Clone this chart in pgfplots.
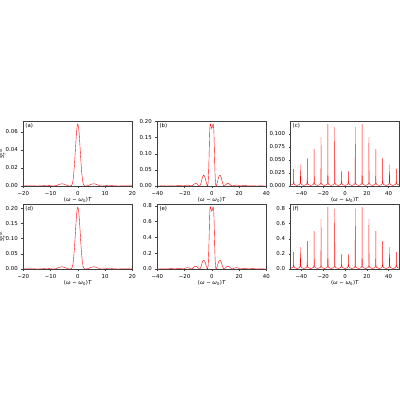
\documentclass[border=0pt]{standalone}
\usepackage{amsmath}
\usepackage{fontspec}
\setmainfont{DejaVu Sans}
\usepackage{pgfplots}
\pgfplotsset{compat=1.18}

\newcommand{\fs}{\fontsize{5.4}{6.5}\selectfont}
\newcommand{\xlab}{(\textit{ω} − \textit{ω}\textsubscript{0})\textit{T}}
\newcommand{\ylab}{$\textit{S}_{\textit{T}}^{\textrm{out}}$}

\pgfplotsset{
  panel/.style={
    scale only axis, width=109pt, height=65pt, anchor=south west,
    axis line style={black!75, line width=0.4pt},
    tick style={black!75, line width=0.4pt},
    major tick length=2pt, tick align=outside,
    xtick pos=left, ytick pos=left,
    ticklabel style={font=\fs},
    /pgf/number format/assume math mode=true,
    scaled y ticks=false, ymin=0,
    xlabel=\xlab,
    xlabel style={font=\fs, at={(axis description cs:0.5,0)}, anchor=north, yshift=-7.5pt},
    ylabel style={font=\fs, at={(axis description cs:-0.19,0.5)}, anchor=center},
    cycle list={{red, no markers, line width=0.7pt}},
  },
  xa/.style={xmin=-20, xmax=20, xtick={-20,-10,0,10,20}, xticklabels={−20,−10,0,10,20}},
  xb/.style={xmin=-40, xmax=40, xtick={-40,-20,0,20,40}, xticklabels={−40,−20,0,20,40}},
  xc/.style={xmin=-50, xmax=50, xtick={-40,-20,0,20,40}, xticklabels={−40,−20,0,20,40}},
  yp/.style={yticklabel style={/pgf/number format/fixed, /pgf/number format/fixed zerofill, /pgf/number format/precision=#1}},
}
\newcommand{\plab}[1]{\node[anchor=north west, font=\fs, inner sep=0pt] at ([xshift=2pt,yshift=-2.5pt]rel axis cs:0,1) {#1};}

\begin{document}
\begin{tikzpicture}
\path[use as bounding box] (0pt,0pt) rectangle (400pt,400pt);

% (a)
\begin{axis}[panel, xa, yp=2, at={(23.3pt,214pt)}, ymax=0.0719, ytick={0,0.02,0.04,0.06}, ylabel=\ylab]
\addplot coordinates {(-20,0.0001)(-19.5,0.0001)(-18,0.0003)(-16.5,0.0002)(-15,0)(-14,0.0001)(-13,0.0003)(-12,0.0005)(-11,0.0005)(-10,0.0003)(-9,0)(-8.5,0.0001)(-8,0.0004)(-7.5,0.0010)(-7,0.0016)(-6.5,0.0021)(-6,0.0024)(-5.5,0.0023)(-5,0.0020)(-4.5,0.0014)(-4,0.0007)(-3.5,0.0002)(-3,0)(-2.5,0.0001)(-2.25,0.0007)(-2,0.0024)(-1.75,0.0062)(-1.5,0.0130)(-1.25,0.0226)(-1,0.0343)(-0.75,0.0466)(-0.5,0.0582)(-0.25,0.0658)(0,0.0685)(0.25,0.0658)(0.5,0.0582)(0.75,0.0466)(1,0.0343)(1.25,0.0226)(1.5,0.0130)(1.75,0.0062)(2,0.0024)(2.25,0.0007)(2.5,0.0001)(3,0)(3.5,0.0002)(4,0.0007)(4.5,0.0014)(5,0.0020)(5.5,0.0023)(6,0.0024)(6.5,0.0021)(7,0.0016)(7.5,0.0010)(8,0.0004)(8.5,0.0001)(9,0)(10,0.0003)(11,0.0005)(12,0.0005)(13,0.0003)(14,0.0001)(15,0)(16.5,0.0002)(18,0.0003)(19.5,0.0001)(20,0.0001)};
\plab{(a)}
\end{axis}

% (b)
\begin{axis}[panel, xb, yp=2, at={(157.3pt,214pt)}, ymax=0.2016, ytick={0,0.05,0.10,0.15,0.20}]
\addplot coordinates {(-40,0.0002)(-39,0)(-36,0.0005)(-33,0)(-31.5,0.0005)(-30,0.0008)(-28.5,0.0006)(-27,0)(-25.5,0.001)(-24,0.0015)(-22.5,0.001)(-21,0)(-19.5,0.002)(-18,0.003)(-16.5,0.002)(-15,0)(-14,0.002)(-13,0.006)(-12,0.008)(-11,0.007)(-10,0.003)(-9,0)(-8.5,0.002)(-8,0.008)(-7.5,0.016)(-7,0.025)(-6.5,0.031)(-6,0.033)(-5.5,0.032)(-5,0.027)(-4.5,0.019)(-4,0.010)(-3.5,0.003)(-3.1,0)(-2.8,0.006)(-2.5,0.025)(-2.2,0.060)(-1.9,0.110)(-1.6,0.160)(-1.35,0.185)(-1.1,0.192)(-0.8,0.190)(-0.4,0.183)(0,0.178)(0.4,0.183)(0.8,0.190)(1.1,0.192)(1.35,0.185)(1.6,0.160)(1.9,0.110)(2.2,0.060)(2.5,0.025)(2.8,0.006)(3.1,0)(3.5,0.003)(4,0.010)(4.5,0.019)(5,0.027)(5.5,0.032)(6,0.033)(6.5,0.031)(7,0.025)(7.5,0.016)(8,0.008)(8.5,0.002)(9,0)(10,0.003)(11,0.007)(12,0.008)(13,0.006)(14,0.002)(15,0)(16.5,0.002)(18,0.003)(19.5,0.002)(21,0)(22.5,0.001)(24,0.0015)(25.5,0.001)(27,0)(28.5,0.0006)(30,0.0008)(31.5,0.0005)(33,0)(36,0.0005)(39,0)(40,0.0002)};
\plab{(b)}
\end{axis}

% (c)
\begin{axis}[panel, xc, yp=3, at={(290.5pt,214pt)}, ymax=0.125, ytick={0,0.025,0.05,0.075,0.1}]
\addplot coordinates {(-50,0.002)
(-47.87,0.003)(-47.35,0.006)(-47.20,0.010)(-47.12,0.033)(-47.04,0.010)(-46.89,0.006)(-46.37,0.003)(-43.98,0.001)
(-41.59,0.003)(-41.07,0.006)(-40.92,0.012)(-40.84,0.041)(-40.76,0.012)(-40.61,0.006)(-40.09,0.003)(-37.70,0.001)
(-35.31,0.003)(-34.79,0.006)(-34.64,0.016)(-34.56,0.053)(-34.48,0.016)(-34.33,0.006)(-33.81,0.003)(-31.42,0.001)
(-29.02,0.003)(-28.50,0.006)(-28.35,0.021)(-28.27,0.071)(-28.19,0.021)(-28.04,0.006)(-27.52,0.003)(-25.13,0.001)
(-22.74,0.003)(-22.22,0.006)(-22.07,0.028)(-21.99,0.094)(-21.91,0.028)(-21.76,0.006)(-21.24,0.003)(-18.85,0.001)
(-16.46,0.003)(-15.94,0.006)(-15.79,0.036)(-15.71,0.119)(-15.63,0.036)(-15.48,0.006)(-14.96,0.003)(-12.57,0.001)
(-10.17,0.003)(-9.65,0.006)(-9.50,0.034)(-9.42,0.113)(-9.34,0.034)(-9.19,0.006)(-8.67,0.003)(-6.28,0.001)
(-3.89,0.003)(-3.37,0.006)(-3.22,0.009)(-3.14,0.028)(-3.06,0.009)(-2.91,0.006)(-2.39,0.003)(0,0.001)
(2.39,0.003)(2.91,0.006)(3.06,0.009)(3.14,0.028)(3.22,0.009)(3.37,0.006)(3.89,0.003)(6.28,0.001)
(8.67,0.003)(9.19,0.006)(9.34,0.034)(9.42,0.113)(9.50,0.034)(9.65,0.006)(10.17,0.003)(12.57,0.001)
(14.96,0.003)(15.48,0.006)(15.63,0.036)(15.71,0.119)(15.79,0.036)(15.94,0.006)(16.46,0.003)(18.85,0.001)
(21.24,0.003)(21.76,0.006)(21.91,0.028)(21.99,0.094)(22.07,0.028)(22.22,0.006)(22.74,0.003)(25.13,0.001)
(27.52,0.003)(28.04,0.006)(28.19,0.021)(28.27,0.071)(28.35,0.021)(28.50,0.006)(29.02,0.003)(31.42,0.001)
(33.81,0.003)(34.33,0.006)(34.48,0.016)(34.56,0.053)(34.64,0.016)(34.79,0.006)(35.31,0.003)(37.70,0.001)
(40.09,0.003)(40.61,0.006)(40.76,0.012)(40.84,0.041)(40.92,0.012)(41.07,0.006)(41.59,0.003)(43.98,0.001)
(46.37,0.003)(46.89,0.006)(47.04,0.010)(47.12,0.033)(47.20,0.010)(47.35,0.006)(47.87,0.003)(50,0.002)};
\plab{(c)}
\end{axis}

% (d)
\begin{axis}[panel, xa, yp=2, at={(23.3pt,131pt)}, ymax=0.214, ytick={0,0.05,0.10,0.15,0.20}, ylabel=\ylab]
\addplot coordinates {(-20,0.0002)(-19.5,0.0004)(-18,0.0008)(-16.5,0.0006)(-15,0)(-14,0.0002)(-13,0.0008)(-12,0.0016)(-11,0.0016)(-10,0.0008)(-9,0)(-8.5,0.0002)(-8,0.0012)(-7.5,0.0029)(-7,0.0047)(-6.5,0.0063)(-6,0.0071)(-5.5,0.0069)(-5,0.0059)(-4.5,0.0041)(-4,0.0020)(-3.5,0.0006)(-3,0)(-2.5,0.0002)(-2.25,0.0020)(-2,0.0071)(-1.75,0.018)(-1.5,0.039)(-1.25,0.067)(-1,0.102)(-0.75,0.139)(-0.5,0.173)(-0.25,0.196)(0,0.204)(0.25,0.196)(0.5,0.173)(0.75,0.139)(1,0.102)(1.25,0.067)(1.5,0.039)(1.75,0.018)(2,0.0071)(2.25,0.0020)(2.5,0.0002)(3,0)(3.5,0.0006)(4,0.0020)(4.5,0.0041)(5,0.0059)(5.5,0.0069)(6,0.0071)(6.5,0.0063)(7,0.0047)(7.5,0.0029)(8,0.0012)(8.5,0.0002)(9,0)(10,0.0008)(11,0.0016)(12,0.0016)(13,0.0008)(14,0.0002)(15,0)(16.5,0.0006)(18,0.0008)(19.5,0.0004)(20,0.0002)};
\plab{(d)}
\end{axis}

% (e)
\begin{axis}[panel, xb, yp=1, at={(157.3pt,131pt)}, ymax=0.824, ytick={0,0.2,0.4,0.6,0.8}]
\addplot coordinates {(-40,0.001)(-39,0)(-37.5,0.002)(-36,0.003)(-34.5,0.002)(-33,0)(-31.5,0.0035)(-30,0.005)(-28.5,0.0035)(-27,0)(-25.5,0.006)(-24,0.009)(-22.5,0.006)(-21,0)(-19.5,0.011)(-18,0.017)(-16.5,0.011)(-15,0)(-14,0.009)(-13,0.026)(-12,0.035)(-11,0.030)(-10,0.013)(-9,0)(-8.5,0.007)(-8,0.027)(-7.5,0.053)(-7,0.083)(-6.5,0.103)(-6,0.110)(-5.5,0.107)(-5,0.090)(-4.5,0.063)(-4,0.034)(-3.5,0.010)(-3.1,0)(-2.8,0.025)(-2.5,0.10)(-2.2,0.245)(-1.9,0.45)(-1.6,0.655)(-1.35,0.76)(-1.1,0.785)(-0.8,0.78)(-0.4,0.75)(0,0.735)(0.4,0.75)(0.8,0.78)(1.1,0.785)(1.35,0.76)(1.6,0.655)(1.9,0.45)(2.2,0.245)(2.5,0.10)(2.8,0.025)(3.1,0)(3.5,0.010)(4,0.034)(4.5,0.063)(5,0.090)(5.5,0.107)(6,0.110)(6.5,0.103)(7,0.083)(7.5,0.053)(8,0.027)(8.5,0.007)(9,0)(10,0.013)(11,0.030)(12,0.035)(13,0.026)(14,0.009)(15,0)(16.5,0.011)(18,0.017)(19.5,0.011)(21,0)(22.5,0.006)(24,0.009)(25.5,0.006)(27,0)(28.5,0.0035)(30,0.005)(31.5,0.0035)(33,0)(34.5,0.002)(36,0.003)(37.5,0.002)(39,0)(40,0.001)};
\plab{(e)}
\end{axis}

% (f)
\begin{axis}[panel, xc, yp=1, at={(290.5pt,131pt)}, ymax=0.86, ytick={0,0.2,0.4,0.6,0.8}]
\addplot coordinates {(-50,0.01)
(-47.87,0.02)(-47.35,0.04)(-47.20,0.068)(-47.12,0.225)(-47.04,0.068)(-46.89,0.04)(-46.37,0.02)(-43.98,0.006)
(-41.59,0.02)(-41.07,0.04)(-40.92,0.087)(-40.84,0.29)(-40.76,0.087)(-40.61,0.04)(-40.09,0.02)(-37.70,0.006)
(-35.31,0.02)(-34.79,0.04)(-34.64,0.111)(-34.56,0.37)(-34.48,0.111)(-34.33,0.04)(-33.81,0.02)(-31.42,0.006)
(-29.02,0.02)(-28.50,0.04)(-28.35,0.15)(-28.27,0.50)(-28.19,0.15)(-28.04,0.04)(-27.52,0.02)(-25.13,0.006)
(-22.74,0.02)(-22.22,0.04)(-22.07,0.198)(-21.99,0.66)(-21.91,0.198)(-21.76,0.04)(-21.24,0.02)(-18.85,0.006)
(-16.46,0.02)(-15.94,0.04)(-15.79,0.246)(-15.71,0.82)(-15.63,0.246)(-15.48,0.04)(-14.96,0.02)(-12.57,0.006)
(-10.17,0.02)(-9.65,0.04)(-9.50,0.24)(-9.42,0.80)(-9.34,0.24)(-9.19,0.04)(-8.67,0.02)(-6.28,0.006)
(-3.89,0.02)(-3.37,0.04)(-3.22,0.059)(-3.14,0.195)(-3.06,0.059)(-2.91,0.04)(-2.39,0.02)(0,0.006)
(2.39,0.02)(2.91,0.04)(3.06,0.059)(3.14,0.195)(3.22,0.059)(3.37,0.04)(3.89,0.02)(6.28,0.006)
(8.67,0.02)(9.19,0.04)(9.34,0.24)(9.42,0.80)(9.50,0.24)(9.65,0.04)(10.17,0.02)(12.57,0.006)
(14.96,0.02)(15.48,0.04)(15.63,0.246)(15.71,0.82)(15.79,0.246)(15.94,0.04)(16.46,0.02)(18.85,0.006)
(21.24,0.02)(21.76,0.04)(21.91,0.198)(21.99,0.66)(22.07,0.198)(22.22,0.04)(22.74,0.02)(25.13,0.006)
(27.52,0.02)(28.04,0.04)(28.19,0.15)(28.27,0.50)(28.35,0.15)(28.50,0.04)(29.02,0.02)(31.42,0.006)
(33.81,0.02)(34.33,0.04)(34.48,0.111)(34.56,0.37)(34.64,0.111)(34.79,0.04)(35.31,0.02)(37.70,0.006)
(40.09,0.02)(40.61,0.04)(40.76,0.087)(40.84,0.29)(40.92,0.087)(41.07,0.04)(41.59,0.02)(43.98,0.006)
(46.37,0.02)(46.89,0.04)(47.04,0.068)(47.12,0.225)(47.20,0.068)(47.35,0.04)(47.87,0.02)(50,0.01)};
\plab{(f)}
\end{axis}
\end{tikzpicture}
\end{document}
